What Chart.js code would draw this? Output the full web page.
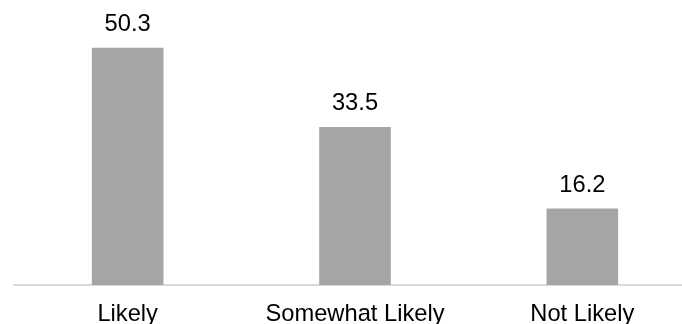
<!DOCTYPE html>
<html>
<head>
<meta charset="utf-8">
<script src="https://cdn.jsdelivr.net/npm/chart.js@4"></script>
<style>
  html, body { margin: 0; padding: 0; background: #fff; overflow: hidden; }
  #wrap { width: 682px; height: 324px; overflow: hidden; }
  #chart { display: block; }
</style>
</head>
<body>
<!-- a área de plotagem continua um pouco além da borda direita -->
<div id="wrap"><canvas id="chart" width="696" height="324"></canvas></div>
<script>
const categorias = ["Likely", "Somewhat Likely", "Not Likely"];
const valores = [50.3, 33.5, 16.2];

const FONTE = "'Liberation Sans', Arial, sans-serif";

// rótulo do valor acima de cada barra
const rotulosBarras = {
  id: "rotulosBarras",
  afterDatasetsDraw(chart) {
    const { ctx } = chart;
    const meta = chart.getDatasetMeta(0);
    ctx.save();
    ctx.font = `23.7px ${FONTE}`;
    ctx.fillStyle = "#000";
    ctx.textAlign = "center";
    ctx.textBaseline = "alphabetic";
    meta.data.forEach((bar, i) => {
      ctx.fillText(valores[i].toFixed(1), bar.x, bar.y - 17);
    });
    ctx.restore();
  }
};

const ctx = document.getElementById("chart").getContext("2d");

new Chart(ctx, {
  type: "bar",
  data: {
    labels: categorias,
    datasets: [
      {
        data: valores,
        backgroundColor: "#a5a5a5",
        borderWidth: 0,
        barPercentage: 0.63,
        categoryPercentage: 0.5
      }
    ]
  },
  options: {
    responsive: false,
    animation: false,
    layout: { padding: { left: 14, top: 2, right: 0, bottom: 0 } },
    plugins: {
      legend: { display: false },
      tooltip: { enabled: false }
    },
    scales: {
      x: {
        grid: { display: false },
        border: { color: "#d9d9d9", width: 2 },
        ticks: {
          color: "#000",
          padding: 7,
          font: { family: FONTE, size: 23.7 }
        },
        // eixo mais baixo: o texto das categorias encosta na borda inferior
        afterFit(scale) {
          scale.height = 39;
        }
      },
      y: {
        display: false,
        min: 0,
        max: 60
      }
    }
  },
  plugins: [rotulosBarras]
});
</script>
</body>
</html>
